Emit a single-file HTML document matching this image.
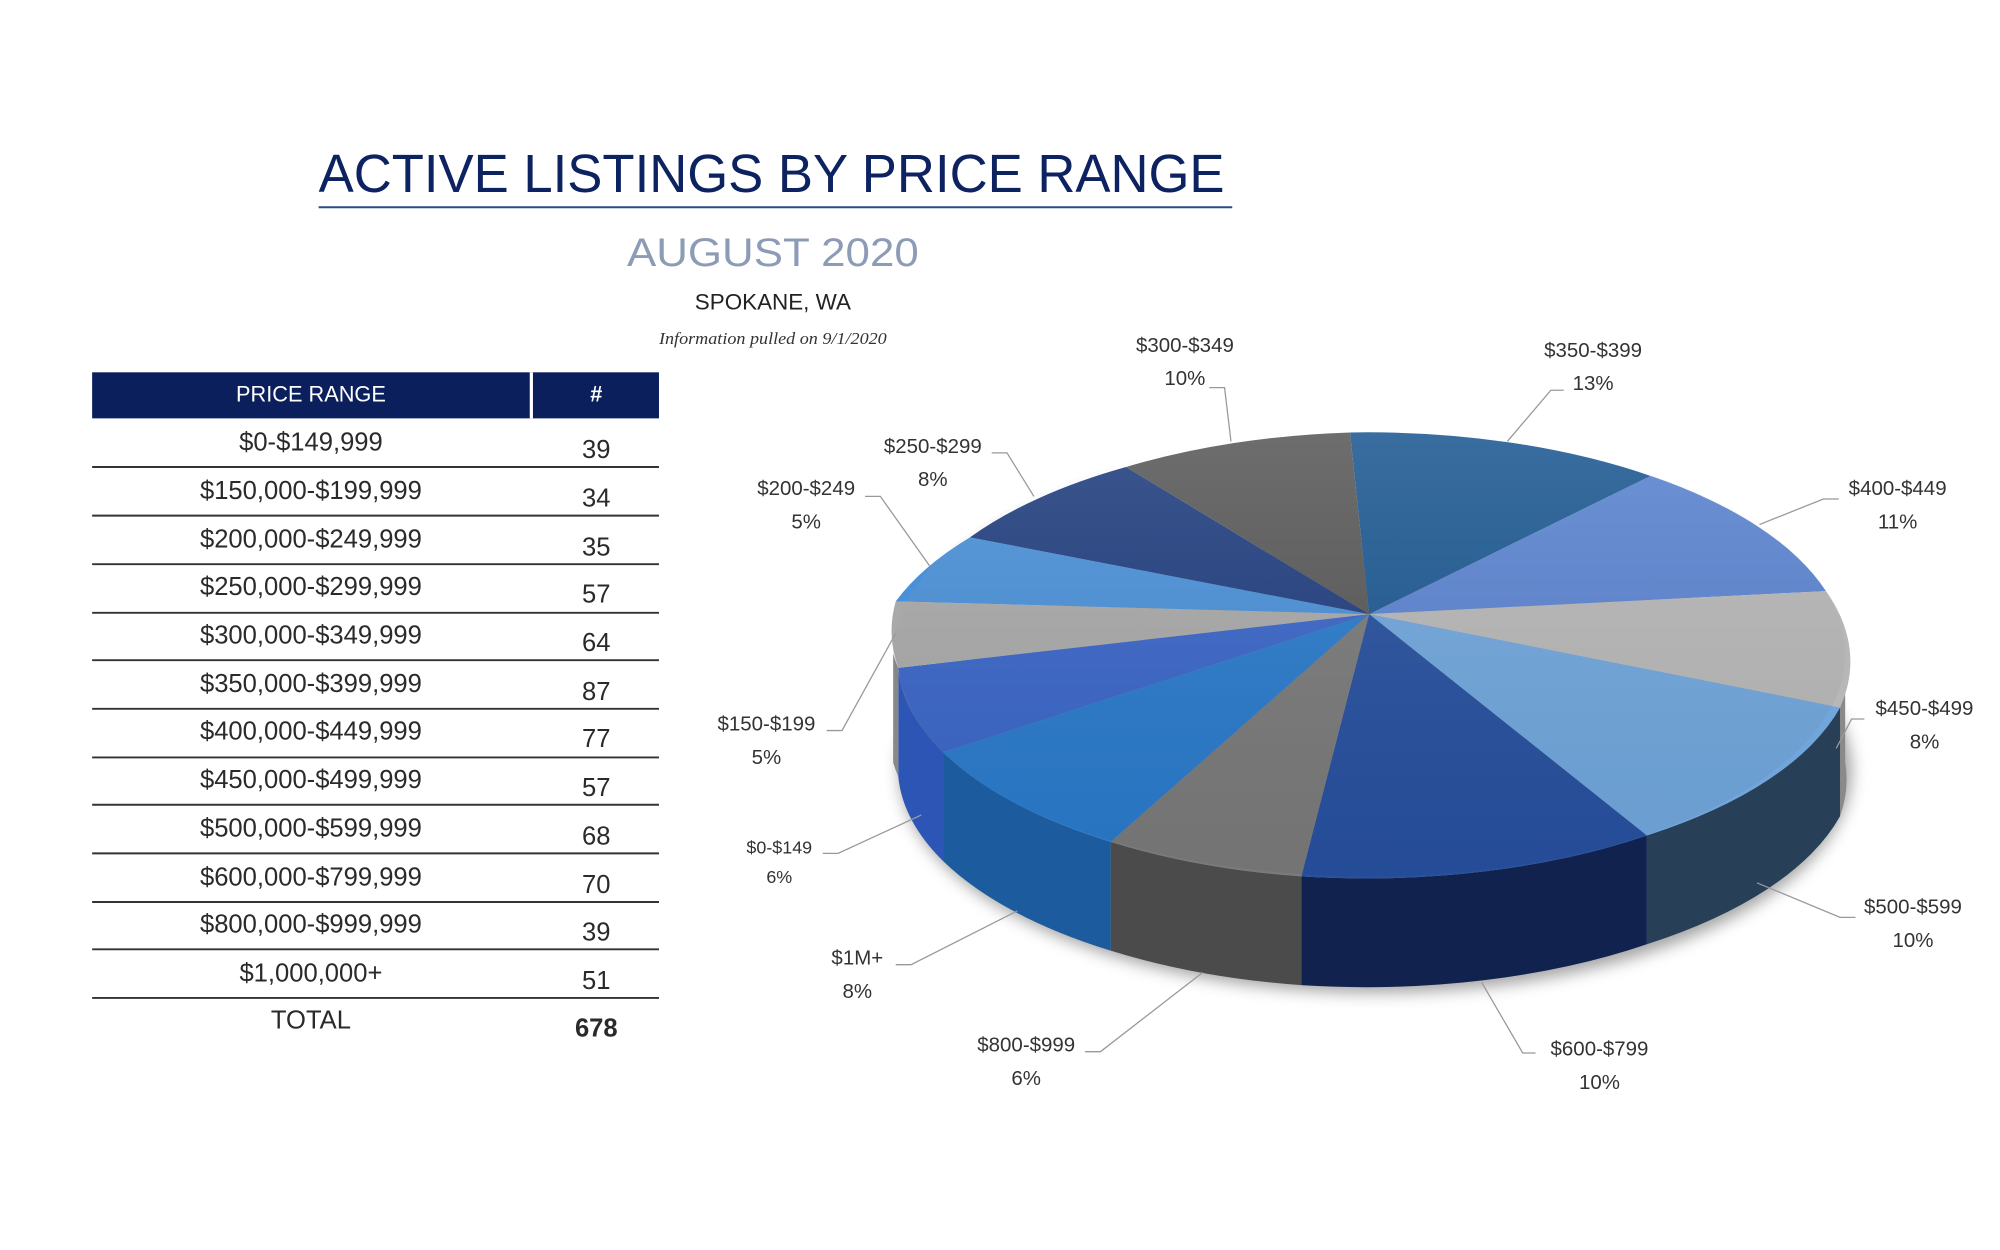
<!DOCTYPE html>
<html><head><meta charset="utf-8"><style>html,body{margin:0;padding:0;background:#fff}svg{display:block}</style></head>
<body>
<svg width="2000" height="1250" viewBox="0 0 1563 977" preserveAspectRatio="none" xmlns="http://www.w3.org/2000/svg" font-family="Liberation Sans, sans-serif">
<defs>
<filter id="sh" x="-20%" y="-40%" width="140%" height="180%"><feGaussianBlur stdDeviation="6"/></filter>
<linearGradient id="tg" x1="0" y1="0" x2="0" y2="1"><stop offset="0" stop-color="#fff" stop-opacity="0.12"/><stop offset="1" stop-color="#000" stop-opacity="0.05"/></linearGradient>
</defs>
<rect width="1563" height="977" fill="#fff"/>
<text x="603" y="150" text-anchor="middle" font-size="42" fill="#0d2260" textLength="708" lengthAdjust="spacingAndGlyphs">ACTIVE LISTINGS BY PRICE RANGE</text>
<line x1="249" y1="162" x2="963" y2="162" stroke="#2a4a8a" stroke-width="1.6"/>
<text x="604" y="208" text-anchor="middle" font-size="31" fill="#8c9cb6" textLength="228" lengthAdjust="spacingAndGlyphs">AUGUST 2020</text>
<text x="604" y="242" text-anchor="middle" font-size="17" fill="#222" textLength="122" lengthAdjust="spacingAndGlyphs">SPOKANE, WA</text>
<text x="604" y="269" text-anchor="middle" font-size="13" font-style="italic" font-family="Liberation Serif, serif" fill="#333" textLength="178" lengthAdjust="spacingAndGlyphs">Information pulled on 9/1/2020</text>

<rect x="72" y="291" width="443" height="36" fill="#0b1f5c"/>
<rect x="414" y="291" width="2.5" height="36" fill="#fff"/>
<text x="243" y="314" text-anchor="middle" font-size="17" fill="#fff">PRICE RANGE</text>
<text x="466" y="314" text-anchor="middle" font-size="17" fill="#fff" font-weight="bold">#</text>
<g font-size="20" fill="#2a2a2a" text-anchor="middle">
<text x="243" y="352">$0-$149,999</text><text x="466" y="358">39</text>
<text x="243" y="390">$150,000-$199,999</text><text x="466" y="396">34</text>
<text x="243" y="428">$200,000-$249,999</text><text x="466" y="434">35</text>
<text x="243" y="465">$250,000-$299,999</text><text x="466" y="471">57</text>
<text x="243" y="503">$300,000-$349,999</text><text x="466" y="509">64</text>
<text x="243" y="541">$350,000-$399,999</text><text x="466" y="547">87</text>
<text x="243" y="578">$400,000-$449,999</text><text x="466" y="584">77</text>
<text x="243" y="616">$450,000-$499,999</text><text x="466" y="622">57</text>
<text x="243" y="654">$500,000-$599,999</text><text x="466" y="660">68</text>
<text x="243" y="692">$600,000-$799,999</text><text x="466" y="698">70</text>
<text x="243" y="729">$800,000-$999,999</text><text x="466" y="735">39</text>
<text x="243" y="767">$1,000,000+</text><text x="466" y="773">51</text>
<text x="243" y="804">TOTAL</text><text x="466" y="810" font-weight="bold">678</text>
</g>
<g stroke="#333" stroke-width="1.5">
<line x1="72" y1="365" x2="515" y2="365"/><line x1="72" y1="403" x2="515" y2="403"/><line x1="72" y1="441" x2="515" y2="441"/><line x1="72" y1="479" x2="515" y2="479"/><line x1="72" y1="516" x2="515" y2="516"/><line x1="72" y1="554" x2="515" y2="554"/><line x1="72" y1="592" x2="515" y2="592"/><line x1="72" y1="629" x2="515" y2="629"/><line x1="72" y1="667" x2="515" y2="667"/><line x1="72" y1="705" x2="515" y2="705"/><line x1="72" y1="742" x2="515" y2="742"/><line x1="72" y1="780" x2="515" y2="780"/>
</g>

<!-- shadow -->
<ellipse cx="1075" cy="602" rx="372" ry="174" fill="#666" opacity="0.6" filter="url(#sh)"/>
<!-- walls -->
<g>
<path d="M1442,511 A372,174 0 0 1 1438,553 L1438,638 A372,174 0 0 0 1442,596 Z" fill="#8a8a8a"/>
<path d="M1438,553 A372,174 0 0 1 1287,653 L1287,738 A372,174 0 0 0 1438,638 Z" fill="#283f58"/>
<path d="M1287,653 A372,174 0 0 1 1017,685 L1017,770 A372,174 0 0 0 1287,738 Z" fill="#12224f"/>
<path d="M1017,685 A372,174 0 0 1 868,658 L868,743 A372,174 0 0 0 1017,770 Z" fill="#4b4b4b"/>
<path d="M868,658 A372,174 0 0 1 737,588 L737,673 A372,174 0 0 0 868,743 Z" fill="#1c5c9e"/>
<path d="M737,588 A372,174 0 0 1 702,522 L702,607 A372,174 0 0 0 737,673 Z" fill="#2d55b5"/>
<path d="M702,522 A372,174 0 0 1 698,511 L698,596 A372,174 0 0 0 702,607 Z" fill="#888"/>
</g>
<!-- top -->
<g>
<path d="M1070,480 L1055,338 A372,174 0 0 1 1290,372 Z" fill="#1f5a93"/>
<path d="M1070,480 L1290,372 A372,174 0 0 1 1427,462 Z" fill="#5b84d0"/>
<path d="M1070,480 L1427,462 A372,174 0 0 1 1438,553 Z" fill="#b7b7b7"/>
<path d="M1070,480 L1438,553 A372,174 0 0 1 1287,653 Z" fill="#70a6dc"/>
<path d="M1070,480 L1287,653 A372,174 0 0 1 1017,685 Z" fill="#27509f"/>
<path d="M1070,480 L1017,685 A372,174 0 0 1 868,658 Z" fill="#7a7a7a"/>
<path d="M1070,480 L868,658 A372,174 0 0 1 737,588 Z" fill="#2a7acb"/>
<path d="M1070,480 L737,588 A372,174 0 0 1 702,522 Z" fill="#3a66c8"/>
<path d="M1070,480 L702,522 A372,174 0 0 1 700,470 Z" fill="#a9a9a9"/>
<path d="M1070,480 L700,470 A372,174 0 0 1 758,420 Z" fill="#4a90d8"/>
<path d="M1070,480 L758,420 A372,174 0 0 1 880,365 Z" fill="#223f80"/>
<path d="M1070,480 L880,365 A372,174 0 0 1 1055,338 Z" fill="#5a5a5a"/>
<ellipse cx="1070" cy="511" rx="372" ry="174" fill="url(#tg)"/>
</g>

<!-- leaders -->
<g stroke="#999" stroke-width="1" fill="none">
<polyline points="945,303 957,303 962,345"/>
<polyline points="1222,305 1212,305 1178,345"/>
<polyline points="1437,390 1425,390 1375,410"/>
<polyline points="1457,562 1447,562 1435,585"/>
<polyline points="1450,717 1438,717 1373,690"/>
<polyline points="1200,823 1190,823 1158,768"/>
<polyline points="848,822 860,822 940,760"/>
<polyline points="700,754 712,754 795,712"/>
<polyline points="643,667 655,667 720,637"/>
<polyline points="646,571 658,571 700,495"/>
<polyline points="676,388 688,388 727,443"/>
<polyline points="775,354 787,354 808,388"/>
</g>
<g font-size="16" fill="#333" text-anchor="middle">
<text x="926" y="275">$300-$349</text><text x="926" y="301">10%</text>
<text x="1245" y="279">$350-$399</text><text x="1245" y="305">13%</text>
<text x="1483" y="387">$400-$449</text><text x="1483" y="413">11%</text>
<text x="1504" y="559">$450-$499</text><text x="1504" y="585">8%</text>
<text x="1495" y="714">$500-$599</text><text x="1495" y="740">10%</text>
<text x="1250" y="825">$600-$799</text><text x="1250" y="851">10%</text>
<text x="802" y="822">$800-$999</text><text x="802" y="848">6%</text>
<text x="670" y="754">$1M+</text><text x="670" y="780">8%</text>
<text x="609" y="667" font-size="14">$0-$149</text><text x="609" y="690" font-size="14">6%</text>
<text x="599" y="571">$150-$199</text><text x="599" y="597">5%</text>
<text x="630" y="387">$200-$249</text><text x="630" y="413">5%</text>
<text x="729" y="354">$250-$299</text><text x="729" y="380">8%</text>
</g>
</svg>
</body></html>
